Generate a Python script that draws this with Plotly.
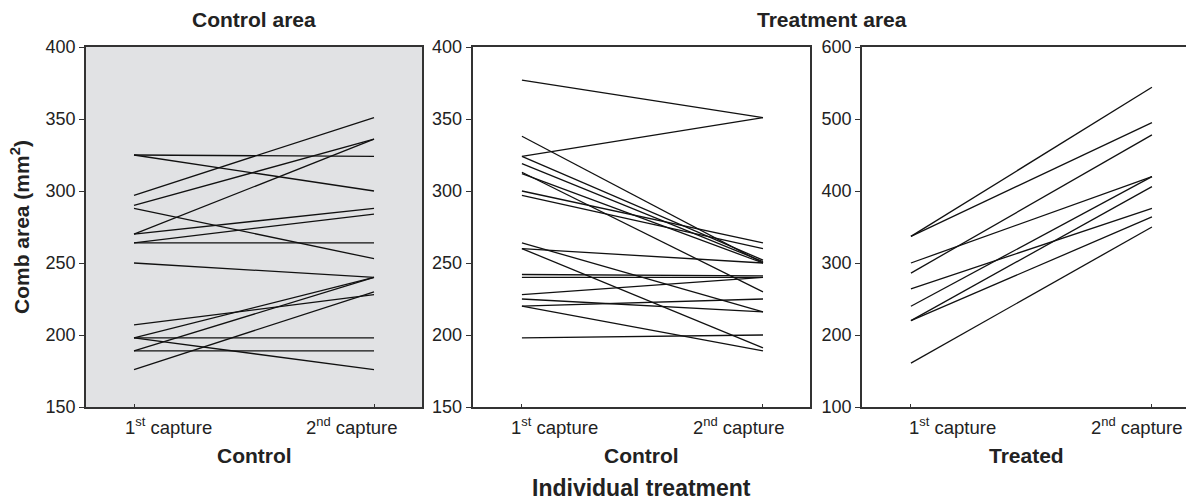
import plotly.graph_objects as go

# ---- data ----
captures = [0, 1]
tick_labels = ["1<sup>st</sup> capture", "2<sup>nd</sup> capture"]

ctrl_area_first = [325, 325, 297, 290, 288, 270, 270, 264, 264, 250, 207, 198, 198, 198, 189, 189, 176]
ctrl_area_second = [324, 300, 351, 336, 253, 336, 288, 264, 284, 240, 228, 240, 198, 176, 189, 240, 230]

treat_ctrl_first = [377, 338, 324, 324, 319, 313, 312, 300, 297, 264, 260, 260, 242, 240, 228, 225, 220, 220, 198]
treat_ctrl_second = [351, 250, 351, 252, 251, 230, 250, 264, 260, 216, 250, 191, 241, 240, 240, 216, 225, 189, 200]

treat_treat_first = [337, 337, 300, 286, 264, 240, 220, 220, 161]
treat_treat_second = [544, 495, 420, 478, 376, 420, 406, 364, 350]

panel_titles = ["Control area", "Treatment area"]
group_labels = ["Control", "Control", "Treated"]
x_title = "Individual treatment"
y_title = "Comb area (mm<sup>2</sup>)"

# the page body adds an 8px margin; the figure is sized to fill the rest of the window
OFF = 8
W, H = 1194 - OFF, 504 - OFF
FONT = "Liberation Sans, Arial, Helvetica, sans-serif"

fig = go.Figure()

panels = [
    (ctrl_area_first, ctrl_area_second, "x", "y"),
    (treat_ctrl_first, treat_ctrl_second, "x2", "y2"),
    (treat_treat_first, treat_treat_second, "x3", "y3"),
]
for first, second, xa, ya in panels:
    for a, b in zip(first, second):
        fig.add_trace(go.Scatter(x=captures, y=[a, b], mode="lines",
                                 line=dict(color="#111111", width=1.3),
                                 xaxis=xa, yaxis=ya, showlegend=False,
                                 hoverinfo="skip"))


def px2fx(px):
    return (px - OFF) / W


def px2fy(py):
    return 1 - (py - OFF) / H


ytop, ybot = 47, 407
ydom = [px2fy(ybot), px2fy(ytop)]
xdoms = [[px2fx(86), px2fx(422)], [px2fx(472.5), px2fx(810)], [px2fx(862), px2fx(1191)]]
xranges = [[-0.2, 1.2], [-0.205, 1.195], [-0.203, 1.162]]
yranges = [[150, 400], [150, 400], [100, 600]]
ydticks = [50, 50, 100]

axcommon = dict(showgrid=False, zeroline=False, showline=True, linecolor="#333333",
                linewidth=1.5, mirror=True, automargin=False)

for i in range(3):
    sfx = "" if i == 0 else str(i + 1)
    fig.layout["xaxis" + sfx] = dict(
        domain=xdoms[i], range=xranges[i], anchor="y" + sfx,
        tickvals=captures, ticktext=["", ""], showticklabels=False,
        ticks="inside", ticklen=3, tickcolor="#333333", **axcommon)
    fig.layout["yaxis" + sfx] = dict(
        domain=ydom, range=yranges[i], anchor="x" + sfx,
        dtick=ydticks[i], tick0=0, ticks="outside", ticklen=5, tickcolor="#333333",
        tickfont=dict(family=FONT, size=18, color="#222222"), **axcommon)

ann = []
# tick label annotations (offset as in reference)
shifts = [(34, -22), (33, -24), (42, -15)]
for i in range(3):
    sfx = "" if i == 0 else str(i + 1)
    for j, c in enumerate(captures):
        ann.append(dict(x=c, y=px2fy(426), xref="x" + sfx, yref="paper", yanchor="middle",
                        xanchor="center", showarrow=False, text=tick_labels[j],
                        xshift=shifts[i][j],
                        font=dict(family=FONT, size=18.5, color="#222222")))

# group labels under each panel
for i in range(3):
    ann.append(dict(x=(xdoms[i][0] + xdoms[i][1]) / 2, y=px2fy(455), xref="paper", yref="paper",
                    xanchor="center", yanchor="middle", showarrow=False,
                    text="<b>%s</b>" % group_labels[i],
                    font=dict(family=FONT, size=21, color="#222222")))

# panel titles
ann.append(dict(x=(xdoms[0][0] + xdoms[0][1]) / 2, y=px2fy(20), xref="paper", yref="paper",
                xanchor="center", yanchor="middle", showarrow=False,
                text="<b>%s</b>" % panel_titles[0],
                font=dict(family=FONT, size=21, color="#222222")))
ann.append(dict(x=(xdoms[1][0] + xdoms[2][1]) / 2, y=px2fy(20), xref="paper", yref="paper",
                xanchor="center", yanchor="middle", showarrow=False,
                text="<b>%s</b>" % panel_titles[1],
                font=dict(family=FONT, size=21, color="#222222")))

# overall x title
ann.append(dict(x=(xdoms[1][0] + xdoms[1][1]) / 2, y=px2fy(488), xref="paper", yref="paper",
                xanchor="center", yanchor="middle", showarrow=False,
                text="<b>%s</b>" % x_title,
                font=dict(family=FONT, size=23, color="#222222")))

# y title
ann.append(dict(x=px2fx(20), y=px2fy(227), xref="paper", yref="paper",
                xanchor="center", yanchor="middle", showarrow=False, textangle=-90,
                text="<b>%s</b>" % y_title,
                font=dict(family=FONT, size=21, color="#222222")))

fig.update_layout(
    width=W, height=H,
    autosize=False,
    margin=dict(l=0, r=0, t=0, b=0, pad=0, autoexpand=False),
    paper_bgcolor="white",
    plot_bgcolor="white",
    showlegend=False,
    annotations=ann,
    shapes=[dict(type="rect", xref="x domain", yref="y domain", x0=0, x1=1, y0=0, y1=1,
                 fillcolor="#e1e2e4", line=dict(width=0), layer="below")],
)

fig.write_html("out.html")
